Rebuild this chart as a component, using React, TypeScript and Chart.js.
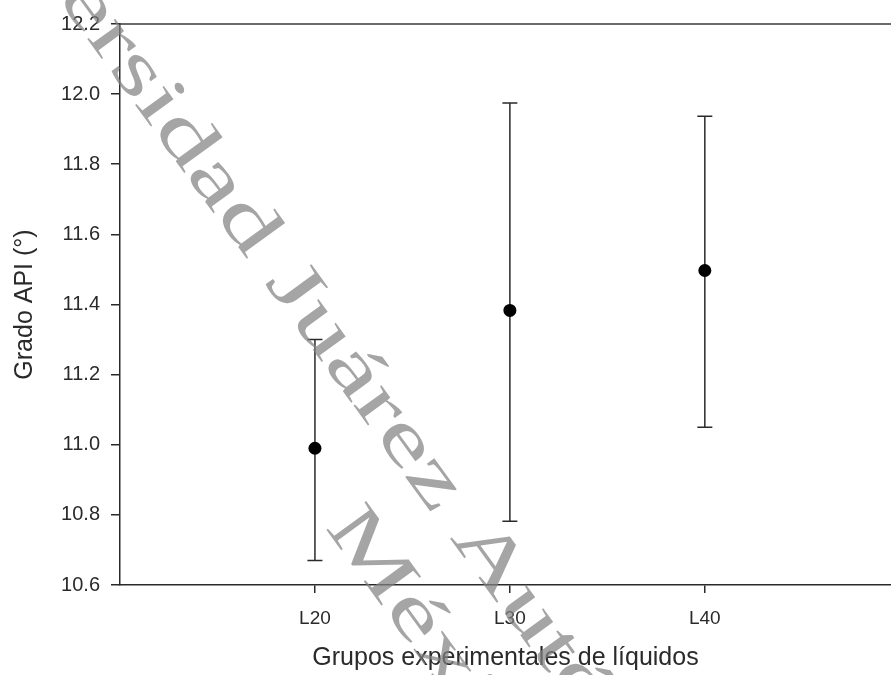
import React, { useEffect, useRef } from "react";
import { Chart, registerables } from "chart.js";

Chart.register(...registerables);

const categories = ["L20", "L30", "L40"];
const positions = [1, 2, 3];
const means = [10.99, 11.383, 11.497];
const upper = [11.3, 11.975, 11.937];
const lower = [10.67, 10.782, 11.05];
const yTicks = [10.6, 10.8, 11.0, 11.2, 11.4, 11.6, 11.8, 12.0, 12.2];
const watermarkLines = ["Universidad Juárez Autónoma de Tabasco", "México"];

const FONT = '"Liberation Sans", Arial, sans-serif';
const INK = "#2a2a2a";

const watermarkPlugin = {
  id: "watermark",
  afterDraw(chart: any) {
    const ctx = chart.ctx;
    ctx.save();
    ctx.translate(498, 571);
    ctx.rotate((54 * Math.PI) / 180);
    ctx.scale(1.5, 1);
    ctx.font = '75px "Liberation Serif", "Times New Roman", serif';
    ctx.fillStyle = "rgba(130,130,130,0.72)";
    ctx.textAlign = "center";
    ctx.textBaseline = "middle";
    ctx.fillText(watermarkLines[0], 0, 0);
    ctx.fillText(watermarkLines[1], 23, 95);
    ctx.restore();
  },
};

const errorBarPlugin = {
  id: "errorBars",
  beforeDatasetsDraw(chart: any) {
    const ctx = chart.ctx;
    const xs = chart.scales.x;
    const ys = chart.scales.y;
    const area = chart.chartArea;
    ctx.save();
    ctx.strokeStyle = "#3a3a3a";
    ctx.lineWidth = 1.5;
    ctx.beginPath();
    ctx.moveTo(area.left, area.top);
    ctx.lineTo(area.right, area.top);
    ctx.stroke();
    ctx.strokeStyle = INK;
    ctx.lineWidth = 1.5;
    positions.forEach((p, i) => {
      const x = xs.getPixelForValue(p);
      const yT = ys.getPixelForValue(upper[i]);
      const yB = ys.getPixelForValue(lower[i]);
      ctx.beginPath();
      ctx.moveTo(x, yT);
      ctx.lineTo(x, yB);
      ctx.moveTo(x - 7.5, yT);
      ctx.lineTo(x + 7.5, yT);
      ctx.moveTo(x - 7.5, yB);
      ctx.lineTo(x + 7.5, yB);
      ctx.stroke();
    });
    ctx.restore();
  },
};

export default function App() {
  const ref = useRef<HTMLCanvasElement>(null);
  useEffect(() => {
    document.body.style.margin = "0";
    const chart = new Chart(ref.current as HTMLCanvasElement, {
      type: "scatter",
      data: {
        datasets: [
          {
            data: positions.map((p, i) => ({ x: p, y: means[i] })),
            pointRadius: 6.5,
            pointBackgroundColor: "#000",
            pointBorderColor: "#000",
            pointBorderWidth: 0,
            showLine: false,
            clip: false,
          },
        ],
      },
      options: {
        animation: false,
        responsive: false,
        events: [],
        layout: { autoPadding: false, padding: { top: 24, right: 0, bottom: 0, left: 0 } },
        plugins: { legend: { display: false }, tooltip: { enabled: false } },
        scales: {
          x: {
            type: "linear",
            min: 0,
            max: 3.955,
            afterBuildTicks: (s: any) => {
              s.ticks = positions.map((v) => ({ value: v }));
            },
            afterFit: (s: any) => {
              s.height = 90;
              s.paddingRight = 0;
              s.paddingLeft = 0;
            },
            ticks: {
              autoSkip: false,
              maxRotation: 0,
              padding: 14,
              color: INK,
              font: { family: FONT, size: 19 },
              callback: (v: any) => categories[positions.indexOf(Number(v))] ?? "",
            },
            grid: {
              display: true,
              drawOnChartArea: false,
              drawTicks: true,
              tickLength: 8,
              color: INK,
              lineWidth: 1.5,
            },
            border: { display: true, color: INK, width: 1.5 },
            title: {
              display: true,
              text: "Grupos experimentales de líquidos",
              color: INK,
              font: { family: FONT, size: 25 },
              padding: { top: 0, bottom: 2 },
            },
          },
          y: {
            min: 10.6,
            max: 12.2,
            afterBuildTicks: (s: any) => {
              s.ticks = yTicks.map((v) => ({ value: v }));
            },
            afterFit: (s: any) => {
              s.width = 120;
            },
            ticks: {
              padding: 11,
              color: INK,
              font: { family: FONT, size: 20 },
              callback: (v: any) => Number(v).toFixed(1),
            },
            grid: {
              display: true,
              drawOnChartArea: false,
              drawTicks: true,
              tickLength: 9,
              color: INK,
              lineWidth: 1.5,
            },
            border: { display: true, color: INK, width: 1.5 },
            title: {
              display: true,
              text: "Grado API (°)",
              color: INK,
              font: { family: FONT, size: 25 },
              padding: { top: 10, bottom: 0 },
            },
          },
        },
      },
      plugins: [errorBarPlugin, watermarkPlugin],
    } as any);
    return () => chart.destroy();
  }, []);
  return (
    <div style={{ position: "absolute", left: 0, top: 0, width: 891, height: 675 }}>
      <canvas ref={ref} width={891} height={675} />
    </div>
  );
}
